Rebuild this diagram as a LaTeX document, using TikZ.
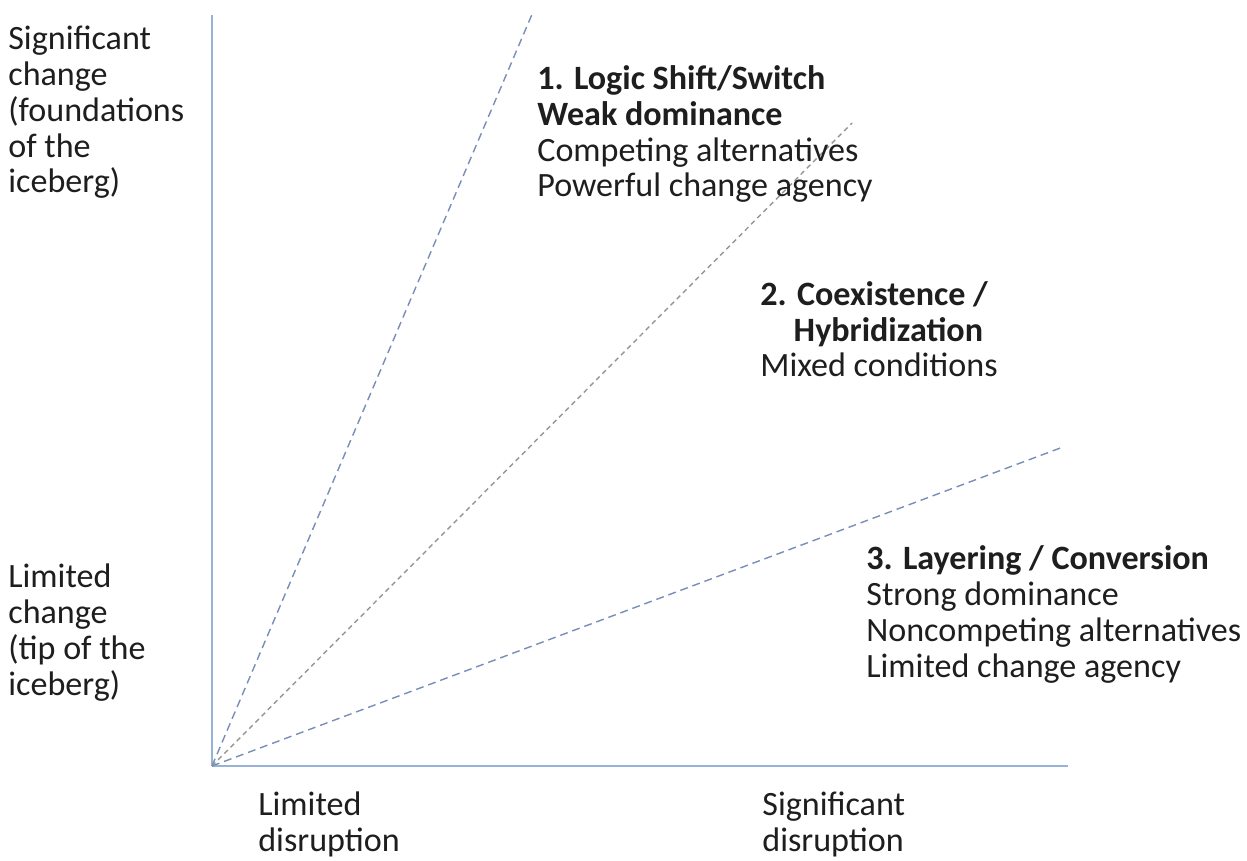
\documentclass[tikz,border=0pt]{standalone}
\usepackage{fontspec}
\setmainfont{Carlito}
\usetikzlibrary{arrows.meta}

\definecolor{axisblue}{RGB}{150,178,214}
\definecolor{rayblue}{RGB}{120,142,184}
\definecolor{raygrey}{RGB}{150,150,150}
\definecolor{textgrey}{RGB}{30,30,30}

\tikzset{
  axis/.style={draw=axisblue, line width=1.1pt},
  ray/.style={draw=rayblue, line width=0.8pt, dash pattern=on 4.5pt off 2.8pt},
  raydot/.style={draw=raygrey, line width=0.8pt, dash pattern=on 2.8pt off 2.2pt},
  lbl/.style={align=left, inner sep=0pt, anchor=base west, text=textgrey,
    font=\fontsize{19.4}{20.4}\selectfont}
}

\begin{document}
\begin{tikzpicture}[x=0.02cm, y=-0.02cm]
            \useasboundingbox (0,0) rectangle (1247,861);
            \coordinate (O) at (212,766);
            \coordinate (Ytop) at (212,15);
            \coordinate (Xend) at (1068,766);
            \coordinate (R1) at (533,12);
            \coordinate (R2) at (852,123);
            \coordinate (R3) at (1063,447);
            \draw[axis] (O) to (Ytop);
            \draw[axis] (O) to (Xend);
            \draw[ray] (O) to (R1);
            \draw[raydot] (O) to (R2);
            \draw[ray] (O) to (R3);
            % base west sits on the last line of each label
            \node[lbl] (SigChange) at (8,193) {Significant\\change\\(foundations\\of the\\iceberg)};
            \node[lbl] (LimChange) at (8,695) {Limited\\change\\(tip of the\\iceberg)};
            \node[lbl] (LimDisr) at (258,851) {Limited\\disruption};
            \node[lbl] (SigDisr) at (762,851) {Significant\\disruption};
            \node[lbl] (Shift) at (537,197) {\textbf{1. Logic Shift/Switch}\\\textbf{Weak dominance}\\Competing alternatives\\Powerful change agency};
            \node[lbl] (Coex) at (760,377) {\textbf{2. Coexistence /}\\\hspace*{19pt}\textbf{Hybridization}\\Mixed conditions};
            \node[lbl] (Layer) at (866,677) {\textbf{3. Layering / Conversion}\\Strong dominance\\Noncompeting alternatives\\Limited change agency};
        \end{tikzpicture}
\end{document}
